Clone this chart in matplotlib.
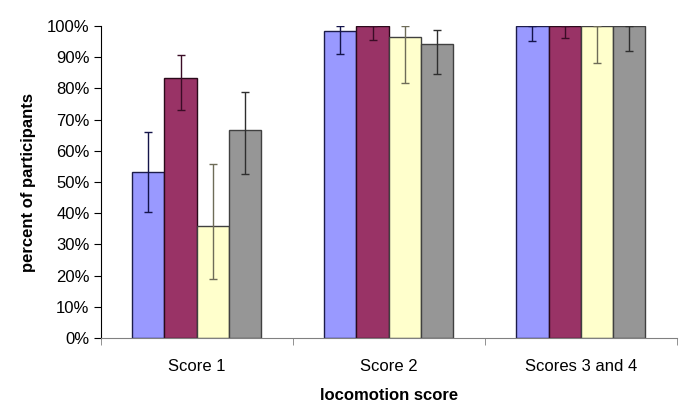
import matplotlib.pyplot as plt
import numpy as np
from matplotlib.ticker import PercentFormatter

plt.rcParams['font.family'] = ['Liberation Sans', 'DejaVu Sans']

groups = ['Score 1', 'Score 2', 'Scores 3 and 4']
colors = ['#9999ff', '#993366', '#ffffcc', '#969696']
err_colors = ['#14144a', '#3a0c26', '#6e6c58', '#2e2e2e']
edge_colors = ['#1c1c4a', '#2a0a1a', '#404040', '#404040']

# percent values per series (one list per bar colour)
values = [
    [53.1, 98.3, 100.0],
    [83.2, 100.0, 100.0],
    [35.8, 96.4, 100.0],
    [66.6, 94.4, 100.0],
]
# error bar ends (low, high)
err_low = [
    [40.3, 91.2, 95.1],
    [73.0, 95.4, 96.1],
    [18.8, 81.6, 88.0],
    [52.5, 84.5, 91.9],
]
err_high = [
    [66.0, 100.0, 100.0],
    [90.6, 100.0, 100.0],
    [55.9, 100.0, 100.0],
    [78.9, 98.8, 100.0],
]

fig = plt.figure(figsize=(6.85, 4.2), dpi=100)
ax = fig.add_axes([0.147, 0.195, 0.841, 0.743])

x = np.arange(len(groups))
w = 0.168
for i in range(4):
    pos = x + (i - 1.5) * w
    v = np.array(values[i])
    lo = v - np.array(err_low[i])
    hi = np.array(err_high[i]) - v
    ax.bar(pos, v, width=w, color=colors[i], edgecolor=edge_colors[i], linewidth=1, zorder=2)
    ax.errorbar(pos, v, yerr=[lo, hi], fmt='none', ecolor=err_colors[i],
                elinewidth=1, capsize=3, capthick=1, zorder=3)

ax.set_xlim(-0.5, 2.5)
ax.set_ylim(0, 100)
ax.set_yticks(np.arange(0, 101, 10))
ax.yaxis.set_major_formatter(PercentFormatter(decimals=0))
ax.set_xticks(x)
ax.set_xticklabels(groups)
ax.set_xticks([-0.5, 0.5, 1.5, 2.5], minor=True)
ax.tick_params(axis='x', which='major', length=0, pad=15, labelsize=12)
ax.tick_params(axis='x', which='minor', length=5, direction='out', color='#808080')
ax.tick_params(axis='y', length=5, direction='out', labelsize=12, pad=3)

for s in ['top', 'right']:
    ax.spines[s].set_visible(False)
ax.spines['bottom'].set_color('#808080')
ax.spines['left'].set_color('#000000')

ax.set_ylabel('percent of participants', fontweight='bold', fontsize=12, labelpad=8)
ax.set_xlabel('locomotion score', fontweight='bold', fontsize=12, labelpad=10)

plt.savefig('out.png', dpi=100)
